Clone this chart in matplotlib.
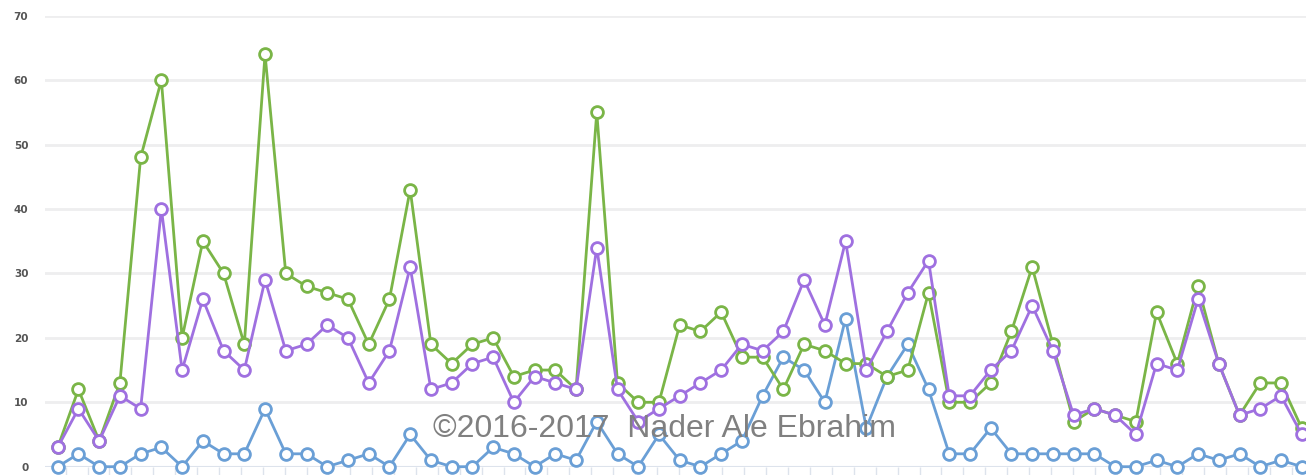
import numpy as np
import matplotlib
matplotlib.use("Agg")
import matplotlib.pyplot as plt

green = [3, 12, 4, 13, 48, 60, 20, 35, 30, 19, 64, 30, 28, 27, 26, 19, 26, 43, 19,
         16, 19, 20, 14, 15, 15, 12, 55, 13, 10, 10, 22, 21, 24, 17, 17, 12, 19, 18, 16, 16,
         14, 15, 27, 10, 10, 13, 21, 31, 19, 7, 9, 8, 7, 24, 16, 28, 16, 8, 13, 13, 6]
purple = [3, 9, 4, 11, 9, 40, 15, 26, 18, 15, 29, 18, 19, 22, 20, 13, 18, 31, 12,
          13, 16, 17, 10, 14, 13, 12, 34, 12, 7, 9, 11, 13, 15, 19, 18, 21, 29, 22, 35, 15,
          21, 27, 32, 11, 11, 15, 18, 25, 18, 8, 9, 8, 5, 16, 15, 26, 16, 8, 9, 11, 5]
blue = [0, 2, 0, 0, 2, 3, 0, 4, 2, 2, 9, 2, 2, 0, 1, 2, 0, 5, 1,
        0, 0, 3, 2, 0, 2, 1, 7, 2, 0, 5, 1, 0, 2, 4, 11, 17, 15, 10, 23, 6,
        14, 19, 12, 2, 2, 6, 2, 2, 2, 2, 2, 0, 0, 1, 0, 2, 1, 2, 0, 1, 0]
yticks = [0, 10, 20, 30, 40, 50, 60, 70]
watermark = "©2016-2017  Nader Ale Ebrahim"

W, H = 1306, 475
fig = plt.figure(figsize=(W / 100, H / 100), dpi=100)
left_px, right_px = 45, 1306
bottom_px, top_px = 466.7, 15.7
ax = fig.add_axes([left_px / W, (H - bottom_px) / H,
                   (right_px - left_px) / W, (bottom_px - top_px) / H])

x = np.arange(len(green))
step = (1301.7 - 57.7) / 60
ax.set_xlim((left_px - 57.7) / step, (right_px - 57.7) / step)
ax.set_ylim(0, 70)

series = [(blue, "#6a9fd6"), (green, "#7ab547"), (purple, "#9f70e0")]
for vals, col in series:
    ax.plot(x, vals, color=col, lw=2.0, marker="o", ms=8.5, mfc="white",
            mec=col, mew=2.0, clip_on=False, zorder=3)

for v in yticks:
    ax.axhline(v, color="#eeeeef", lw=2, zorder=0)
ax.axhline(0, color="#dde3ec", lw=1.5, zorder=1)

ax.set_yticks(yticks)
ax.set_yticklabels([str(v) for v in yticks], fontsize=7.5, color="#555555",
                   fontweight="bold")
ax.tick_params(axis="y", length=0, pad=12)
tick_pos = np.linspace((65.7 - 57.7) / step, (1291.7 - 57.7) / step, 57)
ax.set_xticks(tick_pos)
ax.set_xticklabels([])
ax.tick_params(axis="x", length=6, width=1, color="#dde3ec", direction="out")
for s in ax.spines.values():
    s.set_visible(False)

fig.text(433 / W, (H - 437) / H, watermark, fontsize=23, color="#808080",
         family="Liberation Sans", ha="left", va="baseline", zorder=10)

fig.savefig("out.png", dpi=100)
